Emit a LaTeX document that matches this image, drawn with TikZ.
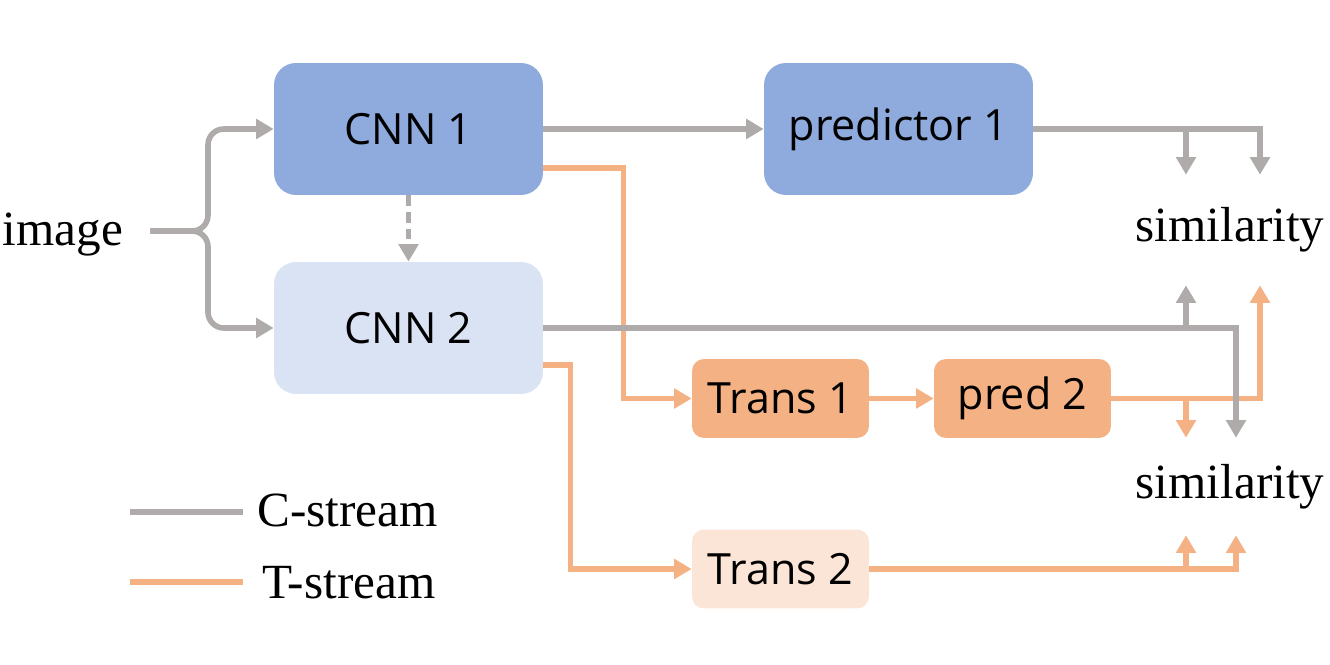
\documentclass[tikz,border=0pt]{standalone}
\usepackage{fontspec}
\setmainfont{Liberation Serif}
\newfontfamily\boxfont{Open Sans}
\usetikzlibrary{arrows.meta}
\definecolor{cgray}{HTML}{AFABAB}
\definecolor{torange}{HTML}{F4B183}
\definecolor{cnnblue}{HTML}{8FAADC}
\definecolor{cnnlight}{HTML}{DAE3F3}
\definecolor{translight}{HTML}{FBE5D6}
\begin{document}
\begin{tikzpicture}[
    x=0.02cm, y=-0.02cm,
    cnn/.style={rectangle, rounded corners=0.44cm, fill=cnnblue, minimum width=5.38cm, minimum height=2.64cm, font=\boxfont\fontsize{24.5}{28}\selectfont},
    trans/.style={rectangle, rounded corners=0.24cm, fill=torange, minimum width=3.54cm, minimum height=1.58cm, font=\boxfont\fontsize{24.5}{28}\selectfont},
    label/.style={font=\fontsize{28}{32}\selectfont, inner sep=0pt},
    gline/.style={draw=cgray, line width=3.2pt},
    oline/.style={draw=torange, line width=3.2pt},
    tip/.style={-{Triangle[width=11pt,length=10pt]}}
]
    \useasboundingbox (0,0) rectangle (1330,665);

    \node[label] (image) at (63,235) {image};

    \node[cnn] (CNN1) at (408.5,129) {CNN 1};
    \node[cnn, fill=cnnlight] (CNN2) at (408.5,328) {CNN 2};
    \node[cnn] (predictor1) at (898.5,129) {predictor 1};

    \node[trans] (Trans1) at (780.5,398.5) {Trans 1};
    \node[trans] (pred2) at (1022.5,398.5) {pred 2};
    \node[trans, fill=translight] (Trans2) at (780.5,569) {Trans 2};

    \node[label, minimum height=2.2cm] (sim1) at (1230,230) {similarity};
    \node[label, minimum height=1.94cm] (sim2) at (1230,486.5) {similarity};

    \coordinate (xa) at (1186,0);
    \coordinate (xb) at (1236,0);
    \coordinate (xc) at (1260,0);

    % image splits into both encoders
    \draw[gline, tip, rounded corners=9] ([xshift=0.54cm]image.east |- 0,231) -- (208,231) |- (CNN1.west);
    \draw[gline, tip, rounded corners=9] ([xshift=0.54cm]image.east |- 0,231) -- (208,231) |- (CNN2.west);

    % T-stream
    \draw[oline, tip] ([yshift=-0.78cm]CNN1.east) -- ++(80,0) |- (Trans1.west);
    \draw[oline, tip] ([yshift=-0.74cm]CNN2.east) -- ++(27,0) |- (Trans2.west);
    \draw[oline, tip] (Trans1) -- (pred2);
    \draw[oline, tip] (pred2.east) -| (sim1.south -| xc);
    \draw[oline, tip] (pred2.east -| xa) -- (sim2.north -| xa);
    \draw[oline, tip] (Trans2.east) -| (sim2.south -| xb);
    \draw[oline, tip] (Trans2.east -| xa) -- (sim2.south -| xa);

    % C-stream
    \draw[gline, tip] (CNN1) -- (predictor1);
    \draw[gline, tip, dash pattern=on 6pt off 3.5pt] (CNN1.south) -- (CNN2.north);
    \draw[gline, tip] (predictor1.east) -| (sim1.north -| xc);
    \draw[gline, tip] (predictor1.east -| xa) -- (sim1.north -| xa);
    \draw[gline, tip] (CNN2.east) -| (sim2.north -| xb);
    \draw[gline, tip] (CNN2.east -| xa) -- (sim1.south -| xa);

    % legend
    \node[label, anchor=west] (cstream) at (257,510) {C-stream};
    \node[label, anchor=west] (tstream) at (262,583) {T-stream};
    \coordinate (cleft) at (130,512);
    \coordinate (tleft) at (130,582);
    \draw[gline] (cleft) -- ([xshift=-0.28cm]cstream.west |- cleft);
    \draw[oline] (tleft) -- ([xshift=-0.38cm]tstream.west |- tleft);
\end{tikzpicture}
\end{document}
